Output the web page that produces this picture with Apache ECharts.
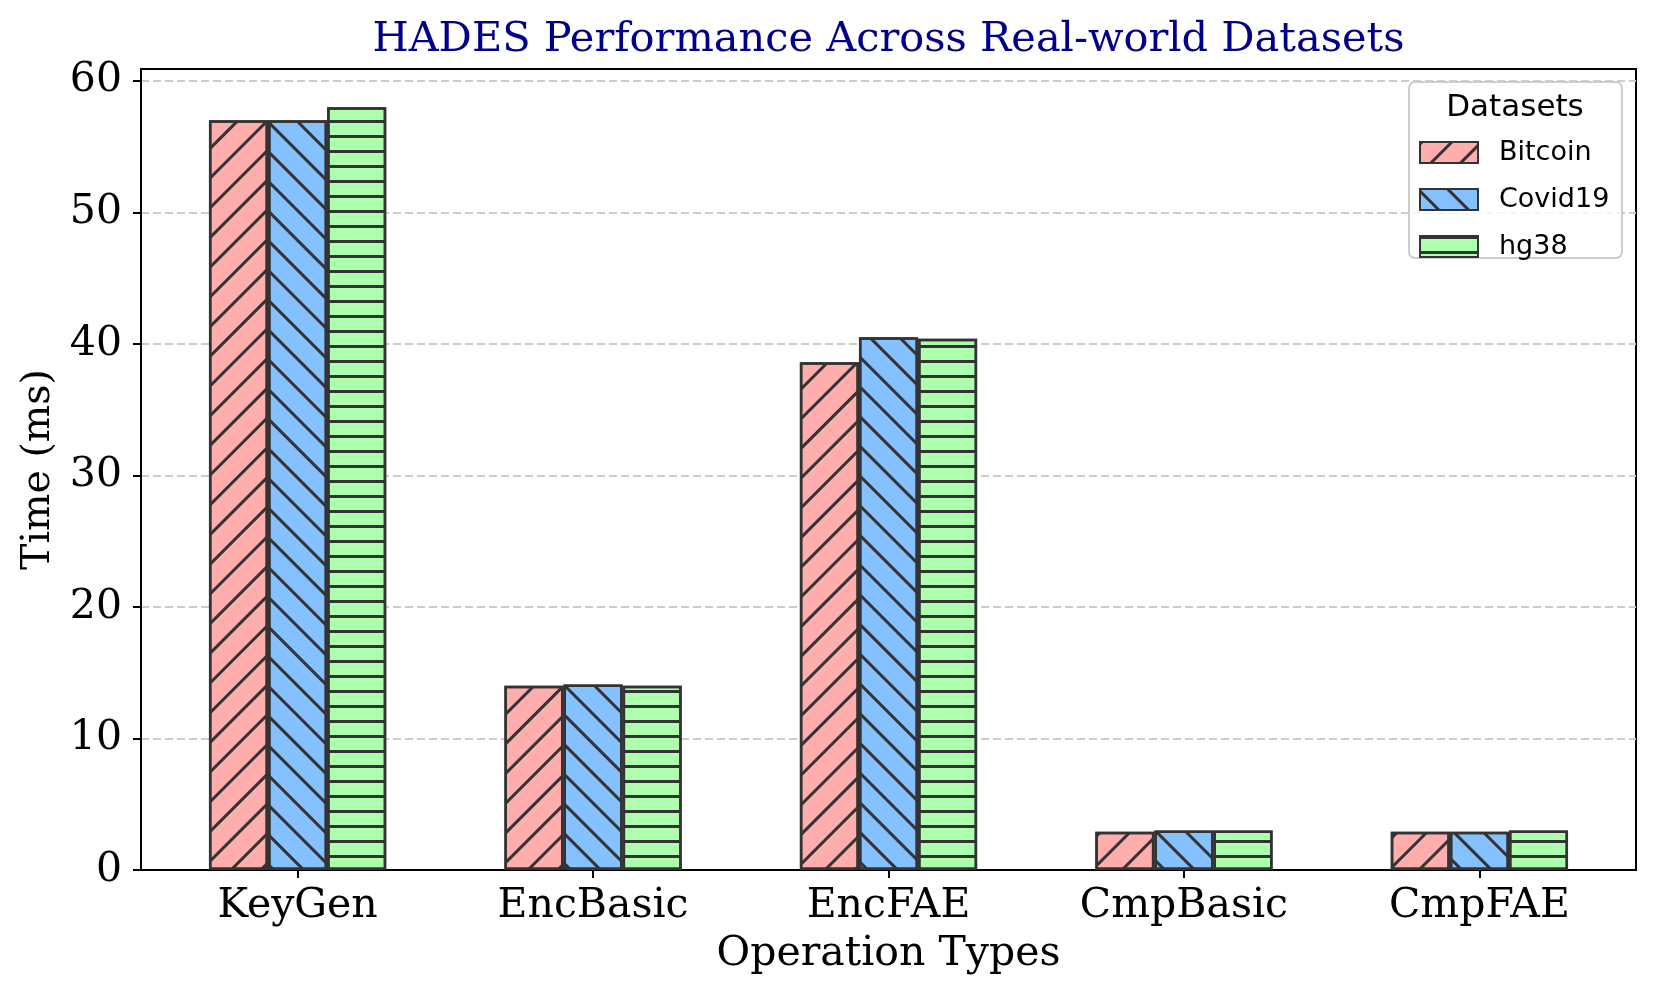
<!DOCTYPE html>
<html>
<head>
<meta charset="utf-8">
<script src="https://cdn.jsdelivr.net/npm/echarts@6/dist/echarts.min.js"></script>
<style>
html,body{margin:0;padding:0;background:#fff;}
#chart{width:1661px;height:997px;}
</style>
</head>
<body>
<div id="chart"></div>
<script>
const categories = ['KeyGen', 'EncBasic', 'EncFAE', 'CmpBasic', 'CmpFAE'];
const bitcoin = [57.0, 14.0, 38.6, 2.9, 2.9];
const covid19 = [57.0, 14.1, 40.5, 3.0, 2.9];
const hg38 = [58.0, 14.0, 40.4, 3.0, 3.0];
const yTicks = [0, 10, 20, 30, 40, 50, 60];

const serif = 'DejaVu Serif';
const edge = '#333333';

// frame (axes box) in px
const frame = {left: 141, right: 25, top: 69, bottom: 127};
// matplotlib x-limits: -0.53 .. 4.53 ; category bands span -0.5 .. 4.5
const frameW = 1661 - frame.left - frame.right;
const pxPerUnit = frameW / 5.06;
const inset = 0.03 * pxPerUnit;

function barSeries(name, data, color, decal) {
  return {
    name: name,
    type: 'bar',
    xAxisIndex: 1,
    yAxisIndex: 1,
    data: data,
    barWidth: '20%',
    barGap: '0%',
    itemStyle: {
      color: color,
      borderColor: edge,
      borderWidth: 2.5,
      decal: decal
    },
    z: 3
  };
}

const chart = echarts.init(document.getElementById('chart'), null, {renderer: 'canvas'});
chart.setOption({
  backgroundColor: '#ffffff',
  animation: false,
  title: {
    text: 'HADES Performance Across Real-world Datasets',
    left: frame.left + frameW / 2 - 5,
    textAlign: 'center',
    top: 14,
    textStyle: {fontFamily: serif, fontSize: 41.5, fontWeight: 'normal', color: '#00008B'}
  },
  grid: [
    {left: frame.left, right: frame.right, top: frame.top, bottom: frame.bottom,
     show: true, borderColor: '#000', borderWidth: 2, containLabel: false},
    {left: frame.left + inset, right: frame.right + inset, top: frame.top, bottom: frame.bottom,
     show: false, containLabel: false}
  ],
  legend: {
    data: ['Bitcoin', 'Covid19', 'hg38'],
    orient: 'vertical',
    left: 1419,
    top: 139,
    padding: 0,
    itemWidth: 58,
    itemHeight: 21,
    itemGap: 20,
    icon: 'rect',
    z: 20,
    textStyle: {fontFamily: 'DejaVu Sans', fontSize: 27, color: '#000', padding: [0, 0, 0, 16]}
  },
  graphic: [
    {
      type: 'rect', z: 10,
      shape: {x: 1409, y: 82, width: 213, height: 176, r: 6},
      style: {fill: 'rgba(255,255,255,0.8)', stroke: '#cccccc', lineWidth: 2}
    },
    {
      type: 'text', z: 11,
      x: 1515, y: 108,
      style: {text: 'Datasets', fontFamily: 'DejaVu Sans', fontSize: 31, fill: '#000', align: 'center', verticalAlign: 'middle'}
    }
  ],
  xAxis: [
    {
      type: 'value', gridIndex: 0, min: 0, max: 1,
      axisLine: {show: true, lineStyle: {color: '#000', width: 2}},
      axisTick: {show: false}, axisLabel: {show: false}, splitLine: {show: false}
    },
    {
      type: 'category',
      gridIndex: 1,
      data: categories,
      name: 'Operation Types',
      nameLocation: 'middle',
      nameGap: 64,
      nameTextStyle: {fontFamily: serif, fontSize: 41, color: '#000'},
      axisLine: {show: true, lineStyle: {color: '#000', width: 2}},
      axisTick: {show: true, alignWithLabel: true, length: 8, lineStyle: {color: '#000', width: 2}},
      axisLabel: {fontFamily: serif, fontSize: 41, color: '#000', margin: 16},
      splitLine: {show: false}
    }
  ],
  yAxis: [
    {
      type: 'value',
      gridIndex: 0,
      min: 0,
      max: 60.9,
      interval: 10,
      name: 'Time (ms)',
      nameLocation: 'middle',
      nameGap: 77,
      nameTextStyle: {fontFamily: serif, fontSize: 39.5, color: '#000'},
      axisLine: {show: true, lineStyle: {color: '#000', width: 2}},
      axisTick: {show: true, length: 8, lineStyle: {color: '#000', width: 2}, customValues: yTicks},
      axisLabel: {fontFamily: serif, fontSize: 41, color: '#000', margin: 19, customValues: yTicks},
      splitLine: {show: true, lineStyle: {color: '#cccccc', width: 2, type: [8, 4]}}
    },
    {
      type: 'value', gridIndex: 1, min: 0, max: 60.9, interval: 10, show: false,
      splitLine: {show: false}
    }
  ],
  series: [
    barSeries('Bitcoin', bitcoin, '#FFADAD', {
      color: edge, symbol: 'rect', dashArrayX: [1, 0], dashArrayY: [2.4, 17.4], rotation: -Math.PI / 4
    }),
    barSeries('Covid19', covid19, '#85C1FF', {
      color: edge, symbol: 'rect', dashArrayX: [1, 0], dashArrayY: [2.4, 17.4], rotation: Math.PI / 4
    }),
    barSeries('hg38', hg38, '#ADFFAD', {
      color: edge, symbol: 'rect', dashArrayX: [1, 0], dashArrayY: [2.4, 11.6], rotation: 0
    })
  ]
});
</script>
</body>
</html>
